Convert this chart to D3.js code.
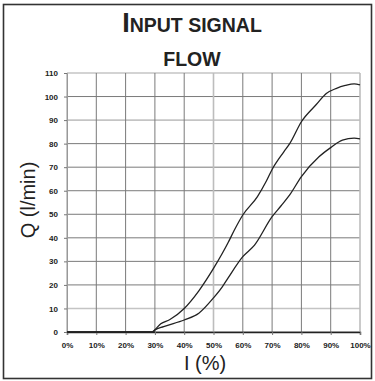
<!DOCTYPE html>
<html>
<head>
<meta charset="utf-8">
<script src="https://cdn.jsdelivr.net/npm/d3@7"></script>
<style>
  body { margin: 0; background: #fff; }
  svg { display: block; font-family: "Liberation Sans", Arial, sans-serif; }
</style>
</head>
<body>
<script>
// signal (%) and flow (l/min)
var signalHigh = [0, 10, 20, 29, 30, 32, 35, 40, 45, 50, 55, 57, 60, 65, 68, 70, 74, 76, 80, 85, 88.5, 92, 95, 98, 100];
var flowHigh   = [0, 0, 0, 0, 1, 3.5, 5.2, 10, 17.5, 27, 38, 43, 49.7, 57.5, 64, 69, 76.5, 80, 89.3, 96.5, 101.3, 103.5, 104.7, 105.4, 105];

var signalLow = [0, 10, 20, 29.5, 30, 33, 40, 45, 50, 53, 55, 60, 64, 70, 73, 76, 80, 86, 90, 94, 98, 100];
var flowLow   = [0, 0, 0, 0, 0.8, 2.3, 5.1, 8, 14.5, 19.2, 23, 32, 36.9, 49, 53.5, 58.2, 66, 74.4, 78.3, 81.5, 82.3, 82];

var xTicks = [0, 10, 20, 30, 40, 50, 60, 70, 80, 90, 100];
var yTicks = [0, 10, 20, 30, 40, 50, 60, 70, 80, 90, 100, 110];
var lightX = [0, 50, 100];
var lightY = [10, 90, 110];

var width = 375,
    height = 381;

var x = d3.scaleLinear().domain([0, 100]).range([67, 360]);
var y = d3.scaleLinear().domain([0, 110]).range([332, 73]);

var svg = d3.select("body").append("svg")
    .attr("width", width)
    .attr("height", height);

// outer frame
svg.append("rect")
    .attr("x", 3.5).attr("y", 4.5)
    .attr("width", 368).attr("height", 374)
    .attr("fill", "none")
    .attr("stroke", "#333")
    .attr("stroke-width", 1.6);

// title
var title = svg.append("text")
    .attr("x", 192).attr("y", 32)
    .attr("text-anchor", "middle")
    .attr("font-weight", "bold")
    .attr("fill", "#222");
title.append("tspan").attr("font-size", 27).text("I");
title.append("tspan").attr("font-size", 19.5).text("NPUT SIGNAL");

svg.append("text")
    .attr("x", 192).attr("y", 66)
    .attr("text-anchor", "middle")
    .attr("font-weight", "bold")
    .attr("font-size", 19.5)
    .attr("fill", "#222")
    .text("FLOW");

// grid
svg.append("g").selectAll("line")
    .data(yTicks)
  .enter().append("line")
    .attr("x1", x(0)).attr("x2", x(100))
    .attr("y1", function(d) { return y(d); })
    .attr("y2", function(d) { return y(d); })
    .attr("stroke", function(d) { return lightY.indexOf(d) >= 0 ? "#c4c4c4" : "#7a7a7a"; })
    .attr("stroke-width", function(d) { return lightY.indexOf(d) >= 0 ? 1.6 : 1; });

svg.append("g").selectAll("line")
    .data(xTicks)
  .enter().append("line")
    .attr("y1", y(0)).attr("y2", y(110))
    .attr("x1", function(d) { return x(d); })
    .attr("x2", function(d) { return x(d); })
    .attr("stroke", function(d) { return lightX.indexOf(d) >= 0 ? "#bdbdbd" : "#7a7a7a"; })
    .attr("stroke-width", function(d) { return lightX.indexOf(d) >= 0 ? 1.6 : 1; });

// axes
var xAxis = svg.append("g")
    .attr("transform", "translate(0," + y(0) + ")")
    .call(d3.axisBottom(x).tickValues(xTicks).tickSize(3).tickPadding(7)
      .tickFormat(function(d) { return d + "%"; }));
xAxis.select(".domain").attr("stroke", "#222").attr("stroke-width", 1.4);

var yAxis = svg.append("g")
    .attr("transform", "translate(" + x(0) + ",0)")
    .call(d3.axisLeft(y).tickValues(yTicks).tickSize(3).tickPadding(6));
yAxis.select(".domain").attr("stroke", "#999");

svg.selectAll(".tick text")
    .attr("font-family", "'Liberation Sans', Arial, sans-serif")
    .attr("font-size", 8)
    .attr("font-weight", "bold")
    .attr("fill", "#222");
svg.selectAll(".tick line").attr("stroke", "#777");

// axis titles
svg.append("text")
    .attr("x", 205).attr("y", 370)
    .attr("text-anchor", "middle")
    .attr("font-size", 20)
    .attr("fill", "#222")
    .text("I (%)");

svg.append("text")
    .attr("transform", "translate(35,200) rotate(-90)")
    .attr("text-anchor", "middle")
    .attr("font-size", 20)
    .attr("fill", "#222")
    .text("Q (l/min)");

// curves
var line = d3.line()
    .x(function(d) { return x(d[0]); })
    .y(function(d) { return y(d[1]); })
    .curve(d3.curveMonotoneX);

svg.append("path")
    .datum(d3.zip(signalHigh, flowHigh))
    .attr("d", line)
    .attr("fill", "none")
    .attr("stroke", "#222")
    .attr("stroke-width", 1.3);

svg.append("path")
    .datum(d3.zip(signalLow, flowLow))
    .attr("d", line)
    .attr("fill", "none")
    .attr("stroke", "#222")
    .attr("stroke-width", 1.3);
</script>
</body>
</html>
